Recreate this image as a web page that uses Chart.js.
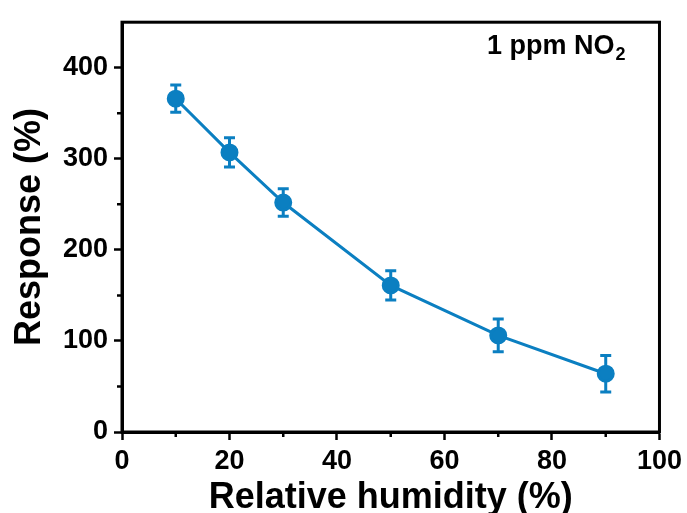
<!DOCTYPE html>
<html>
<head>
<meta charset="utf-8">
<script src="https://cdn.jsdelivr.net/npm/chart.js@4/dist/chart.umd.min.js"></script>
<style>
  html, body { margin: 0; padding: 0; background: #fff; }
  #wrap { width: 687px; height: 513px; }
</style>
</head>
<body>
<div id="wrap"><canvas id="chart"></canvas></div>
<script>
// data
const humidity = [10, 20, 30, 50, 70, 90];
const response = [366, 307, 252, 161, 106, 64];
const errors = [15, 16, 15, 16, 18, 20];

const xTicks = [0, 20, 40, 60, 80, 100];
const xMinor = [10, 30, 50, 70, 90];
const yTicks = [0, 100, 200, 300, 400];
const yMinor = [50, 150, 250, 350];

const blue = '#0b7fc1';
const font = '"Liberation Sans", Arial, sans-serif';

// error bars, frame, minor ticks and label
const extras = {
    id: 'extras',
    beforeDatasetsDraw(chart) {
        let ctx = chart.ctx;
        let xs = chart.scales.x, ys = chart.scales.y;
        ctx.save();
        ctx.strokeStyle = blue;
        ctx.lineWidth = 3;
        humidity.forEach((h, i) => {
            let px = xs.getPixelForValue(h);
            let top = ys.getPixelForValue(response[i] + errors[i]);
            let bot = ys.getPixelForValue(response[i] - errors[i]);
            ctx.beginPath();
            ctx.moveTo(px, top); ctx.lineTo(px, bot);
            ctx.moveTo(px - 5.5, top); ctx.lineTo(px + 5.5, top);
            ctx.moveTo(px - 5.5, bot); ctx.lineTo(px + 5.5, bot);
            ctx.stroke();
        });
        ctx.restore();
    },
    afterDraw(chart) {
        let ctx = chart.ctx;
        let a = chart.chartArea;
        let xs = chart.scales.x, ys = chart.scales.y;
        ctx.save();
        ctx.strokeStyle = '#000';
        ctx.lineWidth = 3;
        ctx.strokeRect(a.left, a.top, a.right - a.left, a.bottom - a.top);
        ctx.lineWidth = 2.5;
        ctx.beginPath();
        xMinor.forEach(v => {
            let px = xs.getPixelForValue(v);
            ctx.moveTo(px, a.bottom); ctx.lineTo(px, a.bottom + 5);
        });
        yMinor.forEach(v => {
            let py = ys.getPixelForValue(v);
            ctx.moveTo(a.left, py); ctx.lineTo(a.left - 5, py);
        });
        ctx.stroke();

        ctx.fillStyle = '#000';
        ctx.textBaseline = 'alphabetic';
        ctx.font = 'bold 27px ' + font;
        let txt = '1 ppm NO';
        let x0 = 487, y0 = 54;
        ctx.fillText(txt, x0, y0);
        let w = ctx.measureText(txt).width;
        ctx.font = 'bold 18px ' + font;
        ctx.fillText('2', x0 + w + 1, y0 + 6);
        ctx.restore();
    }
};

new Chart(document.getElementById('chart'), {
    type: 'scatter',
    data: {
        datasets: [{
            data: humidity.map((h, i) => ({x: h, y: response[i]})),
            showLine: true,
            borderColor: blue,
            backgroundColor: blue,
            borderWidth: 3,
            pointRadius: 7.5,
            pointHoverRadius: 7.5
        }]
    },
    options: {
        responsive: true,
        maintainAspectRatio: false,
        animation: false,
        layout: { padding: { top: 17, right: 26, left: 0, bottom: 0 } },
        plugins: { legend: { display: false }, tooltip: { enabled: false } },
        scales: {
            x: {
                type: 'linear', min: 0, max: 100,
                afterBuildTicks: s => { s.ticks = xTicks.map(v => ({value: v})); },
                afterFit: s => { s.height = 81; },
                grid: { drawOnChartArea: false, tickLength: 8, tickWidth: 2.5, tickColor: '#000' },
                border: { display: true, color: '#000', width: 3 },
                ticks: { color: '#000', padding: 5, font: { family: font, size: 27, weight: 'bold' } },
                title: {
                    display: true, text: 'Relative humidity (%)', color: '#000',
                    padding: { top: 0, bottom: -7 },
                    font: { family: font, size: 36, weight: 'bold' }
                }
            },
            y: {
                type: 'linear', min: 0, max: 450,
                afterBuildTicks: s => { s.ticks = yTicks.map(v => ({value: v})); },
                afterFit: s => { s.width = 122; },
                grid: { drawOnChartArea: false, tickLength: 8, tickWidth: 2.5, tickColor: '#000' },
                border: { display: true, color: '#000', width: 3 },
                ticks: { color: '#000', padding: 6, font: { family: font, size: 27, weight: 'bold' } },
                title: {
                    display: true, text: 'Response (%)', color: '#000',
                    padding: { top: 8, bottom: 0 },
                    font: { family: font, size: 36, weight: 'bold' }
                }
            }
        }
    },
    plugins: [extras]
});
</script>
</body>
</html>
